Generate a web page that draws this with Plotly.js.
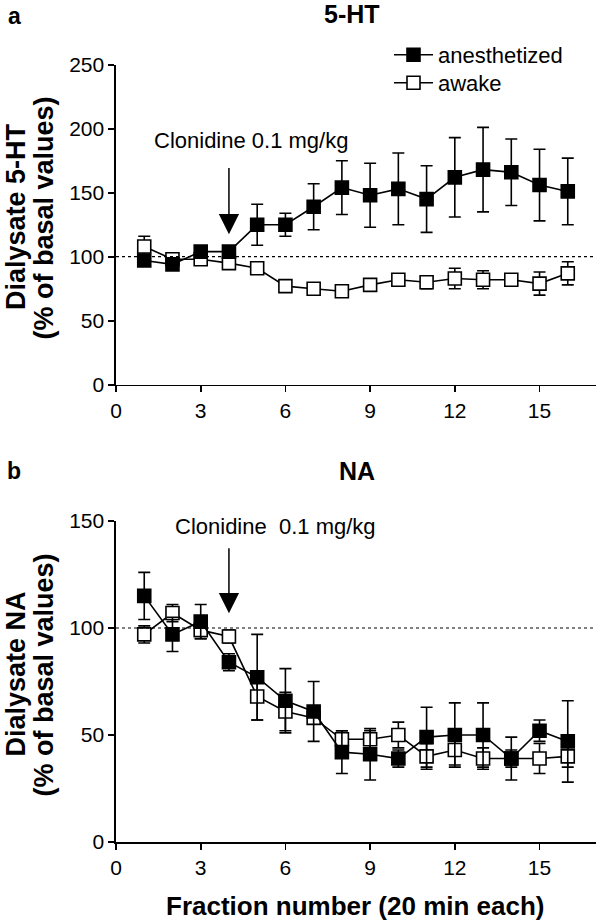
<!DOCTYPE html>
<html>
<head>
<meta charset="utf-8">
<script src="https://cdn.plot.ly/plotly-3.0.1.min.js"></script>
<style>html,body{margin:0;padding:0;background:#fff;}#chart{width:600px;height:922px;}</style>
</head>
<body>
<div id="chart"></div>
<script>
// ---------- data ----------
var fractions = [1,2,3,4,5,6,7,8,9,10,11,12,13,14,15,16];
var xTicks = [0,3,6,9,12,15];

// panel a: 5-HT
var htAnes     = [97, 94, 104, 104, 125, 125, 139, 154, 148, 153, 145, 162, 168, 166, 156, 151];
var htAnesErr  = [3, 3, 3, 3, 16, 9, 18, 21, 25, 28, 26, 31, 33, 26, 28, 26];
var htAwake    = [108, 98, 98, 95, 91, 77, 75, 73, 78, 82, 80, 83, 82, 82, 79, 87];
var htAwakeErr = [8, 3, 3, 3, 3, 3, 3, 3, 3, 3, 5, 8, 7, 3, 9, 9];

// panel b: NA
var naAnes     = [115, 97, 103, 84, 77, 66, 61, 42, 41, 39, 49, 50, 50, 39, 52, 47];
var naAnesErr  = [11, 8, 8, 4, 20, 15, 14, 10, 12, 4, 14, 15, 15, 10, 5, 19];
var naAwake    = [97, 107, 99, 96, 68, 61, 58, 48, 48, 50, 40, 43, 39, 39, 39, 40];
var naAwakeErr = [4, 4, 4, 3, 11, 9, 3, 4, 4, 6, 6, 7, 5, 4, 7, 5];

var seriesNames = ['anesthetized', 'awake'];
var baseline = 100;
var injectionFraction = 4;

// ---------- layout helpers ----------
var W = 600, H = 922, ML = 116, MR = 4;
var PW = W - ML - MR;
function px(xp){ return (xp - ML) / PW; }
function py(yp){ return 1 - yp / H; }
var FONT = 'Liberation Sans, Arial, Helvetica, sans-serif';

function mk(x, y, err, filled, xa, ya, name, showleg, leg){
  var t = {
    x: x, y: y, xaxis: xa, yaxis: ya, name: name, showlegend: showleg,
    type: 'scatter', mode: 'lines+markers',
    line: {color: '#000', width: 1.6},
    marker: {symbol: 'square', size: 13, color: filled ? '#000' : '#fff',
             line: {color: '#000', width: 1.6}},
    error_y: {type: 'data', array: err, visible: true, color: '#000', thickness: 1.6, width: 6}
  };
  if (leg) t.legend = leg;
  return t;
}

var traces = [
  mk(fractions, htAwake, htAwakeErr, false, 'x', 'y', seriesNames[1], true, 'legend2'),
  mk(fractions, htAnes, htAnesErr, true, 'x', 'y', seriesNames[0], true, 'legend'),
  mk(fractions, naAwake, naAwakeErr, false, 'x2', 'y2', seriesNames[1], false),
  mk(fractions, naAnes, naAnesErr, true, 'x2', 'y2', seriesNames[0], false)
];

function xax(anchor){
  return {anchor: anchor, domain: [0,1], range: [0,17], tickvals: xTicks, showgrid: false, zeroline: false,
    showline: true, linecolor: '#000', linewidth: 1.6, ticks: 'outside', ticklen: 6, tickwidth: 1.6,
    tickcolor: '#000', tickfont: {family: FONT, size: 21, color: '#000'}, automargin: false, fixedrange: true};
}
function yax(anchor, dom, rng){
  return {anchor: anchor, domain: dom, range: rng, dtick: 50, tick0: 0, showgrid: false, zeroline: false,
    showline: true, linecolor: '#000', linewidth: 1.6, ticks: 'outside', ticklen: 6, tickwidth: 1.6,
    tickcolor: '#000', tickfont: {family: FONT, size: 21, color: '#000'}, automargin: false, fixedrange: true};
}
function leg(yc){
  return {x: px(389), xanchor: 'left', y: py(yc), yanchor: 'middle',
    font: {family: FONT, size: 22, color: '#000'}, bgcolor: 'rgba(0,0,0,0)', itemwidth: 39};
}
function ann(text, x, y, size, extra){
  var a = {text: text, xref: 'paper', yref: 'paper', x: px(x), y: py(y), xanchor: 'center', yanchor: 'middle',
    showarrow: false, font: {family: FONT, size: size, color: '#000'}};
  for (var k in (extra || {})) a[k] = extra[k];
  return a;
}

var layout = {
  width: W, height: H,
  margin: {l: ML, r: MR, t: 0, b: 0},
  paper_bgcolor: '#fff', plot_bgcolor: '#fff',
  font: {family: FONT, color: '#000'},
  xaxis: xax('y'),
  yaxis: yax('x', [py(384.7), py(64.7)], [0, 250]),
  xaxis2: xax('y2'),
  yaxis2: yax('x2', [py(842), py(521)], [0, 150]),
  showlegend: true,
  legend: leg(55),
  legend2: leg(83),
  shapes: [
    {type: 'line', xref: 'x', yref: 'y', x0: 0, x1: 17, y0: baseline, y1: baseline,
     line: {color: '#000', width: 1.2, dash: 'dot'}},
    {type: 'line', xref: 'x2', yref: 'y2', x0: 0, x1: 17, y0: baseline, y1: baseline,
     line: {color: '#000', width: 1.2, dash: 'dot'}}
  ],
  annotations: [
    ann('<b>a</b>', 14, 16, 23),
    ann('<b>b</b>', 14, 471, 23),
    ann('<b>5-HT</b>', 352, 14, 25),
    ann('<b>NA</b>', 357, 471, 25),
    ann('<b>Dialysate 5-HT</b>', 15.5, 216.5, 27, {textangle: -90}),
    ann('<b>(% of basal values)</b>', 43.5, 218, 27, {textangle: -90}),
    ann('<b>Dialysate NA</b>', 15.5, 674, 27, {textangle: -90}),
    ann('<b>(% of basal values)</b>', 43.5, 675, 27, {textangle: -90}),
    ann('<b>Fraction number (20 min each)</b>', 355, 906, 26),
    {text: 'Clonidine 0.1 mg/kg', xref: 'x', yref: 'y', x: 4.79, y: 190.4, xanchor: 'center', yanchor: 'middle',
     showarrow: false, font: {family: FONT, size: 22, color: '#000'}},
    {text: '', xref: 'x', yref: 'y', x: injectionFraction, y: 117.5, axref: 'x', ayref: 'y',
     ax: injectionFraction, ay: 170.5, showarrow: true, arrowhead: 2, arrowsize: 2.7, arrowwidth: 1.5,
     arrowcolor: '#000', standoff: 0},
    {text: 'Clonidine\u00a0 0.1 mg/kg', xref: 'x2', yref: 'y2', x: 5.66, y: 147.3, xanchor: 'center', yanchor: 'middle',
     showarrow: false, font: {family: FONT, size: 22, color: '#000'}},
    {text: '', xref: 'x2', yref: 'y2', x: injectionFraction, y: 106.9, axref: 'x2', ayref: 'y2',
     ax: injectionFraction, ay: 138, showarrow: true, arrowhead: 2, arrowsize: 2.7, arrowwidth: 1.5,
     arrowcolor: '#000', standoff: 0}
  ]
};

Plotly.newPlot('chart', traces, layout, {displayModeBar: false, staticPlot: true});
</script>
</body>
</html>
